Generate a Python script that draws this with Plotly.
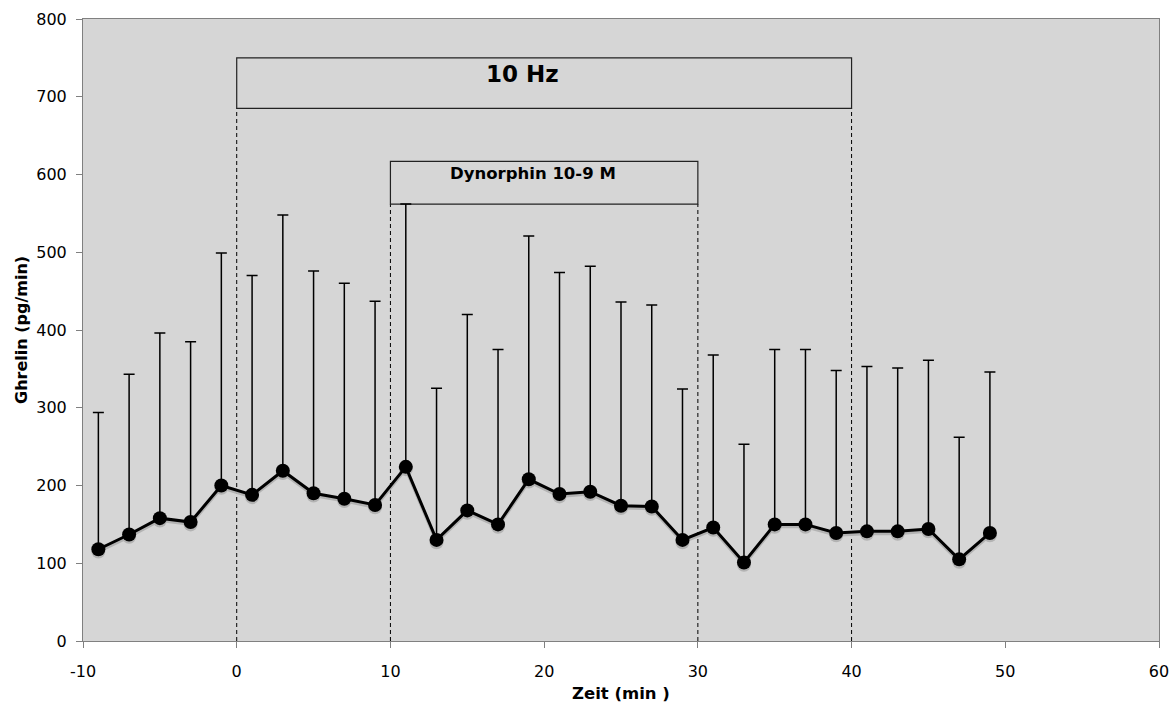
import plotly.graph_objects as go

# Data
zeit = [-9, -7, -5, -3, -1, 1, 3, 5, 7, 9, 11, 13, 15, 17, 19, 21, 23, 25, 27, 29,
        31, 33, 35, 37, 39, 41, 43, 45, 47, 49]
ghrelin = [118, 137, 158, 153, 200, 188, 219, 190, 183, 175, 224, 130, 168, 150, 208,
           189, 192, 174, 173, 130, 146, 101, 150, 150, 139, 141, 141, 144, 105, 139]
upper = [294, 343, 396, 385, 499, 470, 548, 476, 460, 437, 562, 325, 420, 375, 521,
         474, 482, 436, 432, 324, 368, 253, 375, 375, 348, 353, 351, 361, 262, 346]
err_plus = [u - m for u, m in zip(upper, ghrelin)]

x_ticks = [-10, 0, 10, 20, 30, 40, 50, 60]
x_tick_labels = ["-10", "0", "10", "20", "30", "40", "50", "60"]
y_ticks = [0, 100, 200, 300, 400, 500, 600, 700, 800]
y_tick_labels = ["0", "100", "200", "300", "400", "500", "600", "700", "800"]

x_title = "Zeit (min )"
y_title = "Ghrelin (pg/min)"

# Annotation periods
hz_start, hz_end, hz_box_low, hz_box_high = 0, 40, 685, 750
dyn_start, dyn_end, dyn_box_low, dyn_box_high = 10, 30, 562, 617

FONT = "DejaVu Sans"
fig = go.Figure()

# shadow
fig.add_trace(go.Scatter(
    x=zeit, y=[v - 3 for v in ghrelin], mode="lines+markers",
    line=dict(color="#b3b3b3", width=3),
    marker=dict(size=14, color="#b3b3b3"),
    hoverinfo="skip", showlegend=False))

fig.add_trace(go.Scatter(
    x=zeit, y=ghrelin, mode="lines+markers",
    line=dict(color="black", width=3),
    marker=dict(size=14, color="black"),
    error_y=dict(type="data", symmetric=False, array=err_plus,
                 arrayminus=[0] * len(err_plus),
                 color="black", thickness=1.5, width=5.5),
    showlegend=False))

shapes = []
for xv, top in [(hz_start, hz_box_low), (hz_end, hz_box_low),
                (dyn_start, dyn_box_low), (dyn_end, dyn_box_low)]:
    shapes.append(dict(type="line", x0=xv, x1=xv, y0=0, y1=top,
                       xref="x", yref="y", layer="below",
                       line=dict(color="black", width=1, dash="4px,3px")))
shapes.append(dict(type="rect", x0=hz_start, x1=hz_end, y0=hz_box_low, y1=hz_box_high,
                   xref="x", yref="y", line=dict(color="#222222", width=1.2), layer="below"))
shapes.append(dict(type="rect", x0=dyn_start, x1=dyn_end, y0=dyn_box_low, y1=dyn_box_high,
                   xref="x", yref="y", line=dict(color="#222222", width=1.2), layer="below"))

annotations = [
    dict(x=18.6, y=729, xref="x", yref="y", text="<b>10 Hz</b>", showarrow=False,
         font=dict(family=FONT, size=23, color="black")),
    dict(x=19.3, y=601, xref="x", yref="y", text="<b>Dynorphin 10-9 M</b>", showarrow=False,
         font=dict(family=FONT, size=16.5, color="black")),
    dict(x=0.5, y=0, xref="paper", yref="paper", xanchor="center", yanchor="middle",
         yshift=-52, text="<b>" + x_title + "</b>", showarrow=False,
         font=dict(family=FONT, size=16.5, color="black")),
    dict(x=0, y=0.5, xref="paper", yref="paper", xanchor="center", yanchor="middle",
         xshift=-62, textangle=-90, text="<b>" + y_title + "</b>", showarrow=False,
         font=dict(family=FONT, size=16, color="black")),
]

fig.update_layout(
    width=1176, height=707,
    margin=dict(l=83, r=17, t=19, b=66),
    paper_bgcolor="white", plot_bgcolor="#d6d6d6",
    font=dict(family=FONT, size=16, color="black"),
    shapes=shapes, annotations=annotations,
    xaxis=dict(range=[-10, 60], tickvals=x_ticks, ticktext=x_tick_labels,
               ticks="outside", ticklen=6, automargin=False, ticklabelstandoff=10,
               ticklabeloverflow="allow",
               tickcolor="#808080", showline=True, linecolor="#808080", linewidth=1,
               mirror=True, showgrid=False, zeroline=False,
               tickfont=dict(family=FONT, size=16)),
    yaxis=dict(range=[0, 800], tickvals=y_ticks, ticktext=y_tick_labels,
               ticks="outside", ticklen=6, automargin=False, ticklabelstandoff=6,
               ticklabeloverflow="allow",
               tickcolor="#808080", showline=True, linecolor="#808080", linewidth=1,
               mirror=True, showgrid=False, zeroline=False,
               tickfont=dict(family=FONT, size=16)),
)

# remove the default page margin so the 1176x707 figure fills the window exactly
fig.write_html("out.html",
               config={"displayModeBar": False},
               post_script="document.body.style.margin='0px';"
                           "document.body.style.overflow='hidden';")
